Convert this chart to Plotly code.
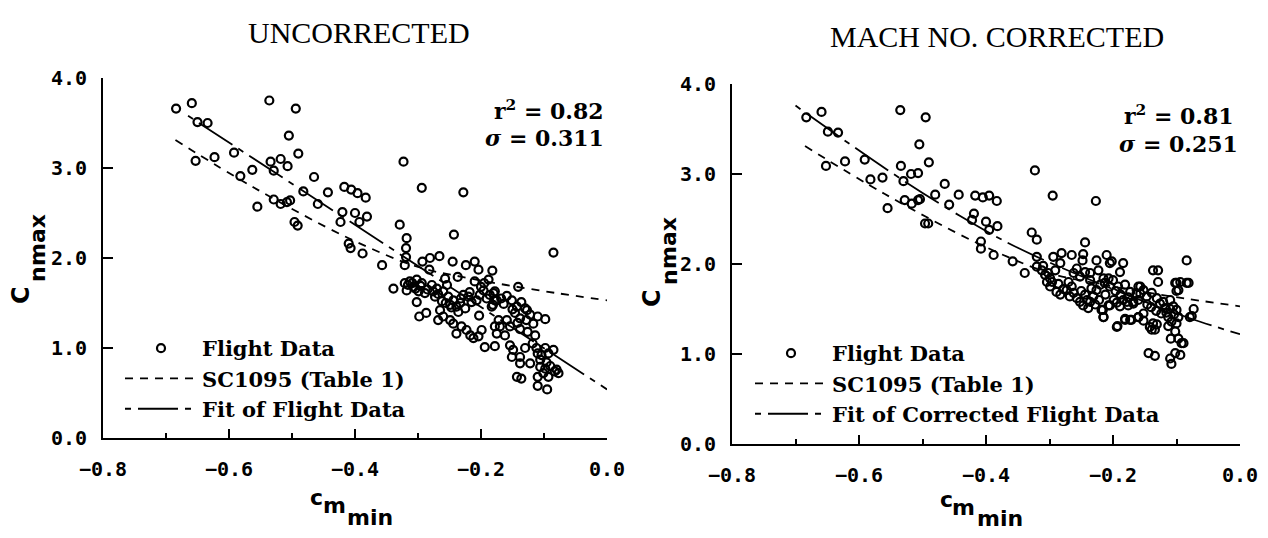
import plotly.graph_objects as go

# figure is 16px smaller than the window: the page body keeps its 8px margin
W, H = 1252, 522
OFF = 8


def px(x):
    """page pixel x -> paper fraction"""
    return (x - OFF) / W


def py(y):
    """page pixel y -> paper fraction"""
    return 1 - (y - OFF) / H


# ---- data ----
left_x = [-0.684, -0.659, -0.650, -0.634, -0.653, -0.623, -0.592, -0.582, -0.563, -0.555,
          -0.536, -0.534, -0.529, -0.518, -0.507, -0.505, -0.494, -0.490, -0.529, -0.518,
          -0.503, -0.508, -0.496, -0.491, -0.482, -0.465, -0.459, -0.443, -0.417, -0.406,
          -0.396, -0.383, -0.420, -0.423, -0.400, -0.393, -0.381, -0.410, -0.407, -0.388,
          -0.357, -0.323, -0.294, -0.228, -0.243, -0.329, -0.318, -0.319, -0.319, -0.339,
          -0.085, -0.141, -0.321, -0.293, -0.281, -0.266, -0.282, -0.245, -0.224, -0.210,
          -0.204, -0.182, -0.237, -0.257, -0.254, -0.210, -0.188, -0.321, -0.313, -0.302,
          -0.294, -0.307, -0.318, -0.299, -0.289, -0.302, -0.278, -0.270, -0.273, -0.260,
          -0.252, -0.244, -0.239, -0.249, -0.233, -0.225, -0.228, -0.220, -0.215, -0.207,
          -0.202, -0.196, -0.191, -0.186, -0.178, -0.175, -0.181, -0.265, -0.260, -0.268,
          -0.249, -0.244, -0.231, -0.223, -0.217, -0.212, -0.204, -0.199, -0.239, -0.298,
          -0.287, -0.194, -0.178, -0.172, -0.178, -0.203, -0.159, -0.151, -0.143, -0.136,
          -0.130, -0.127, -0.180, -0.178, -0.183, -0.146, -0.138, -0.128, -0.117, -0.110,
          -0.098, -0.122, -0.159, -0.154, -0.170, -0.162, -0.175, -0.138, -0.114, -0.154,
          -0.149, -0.151, -0.138, -0.130, -0.122, -0.138, -0.110, -0.106, -0.098, -0.093,
          -0.085, -0.106, -0.101, -0.093, -0.110, -0.077, -0.083, -0.098, -0.143, -0.136,
          -0.110, -0.095, -0.316, -0.309, -0.304, -0.296, -0.285, -0.276, -0.268, -0.262,
          -0.256, -0.247, -0.236, -0.232, -0.218, -0.200, -0.195, -0.168, -0.164, -0.150,
          -0.142, -0.126, -0.118, -0.112, -0.104, -0.096, -0.090, -0.080]
left_y = [3.66, 3.72, 3.51, 3.50, 3.08, 3.12, 3.17, 2.91, 2.98, 2.57,
          3.75, 3.07, 2.97, 3.10, 3.02, 3.36, 3.66, 3.16, 2.65, 2.60,
          2.64, 2.62, 2.40, 2.36, 2.74, 2.90, 2.60, 2.73, 2.79, 2.76,
          2.72, 2.67, 2.51, 2.40, 2.50, 2.40, 2.46, 2.16, 2.11, 2.05,
          1.92, 3.07, 2.78, 2.73, 2.26, 2.37, 2.22, 2.11, 2.01, 1.66,
          2.06, 1.68, 1.92, 1.96, 2.00, 2.02, 1.87, 1.96, 1.92, 1.96,
          1.87, 1.86, 1.79, 1.77, 1.70, 1.74, 1.76, 1.72, 1.74, 1.76,
          1.72, 1.68, 1.64, 1.63, 1.61, 1.51, 1.70, 1.66, 1.57, 1.63,
          1.57, 1.53, 1.46, 1.48, 1.50, 1.44, 1.59, 1.57, 1.51, 1.53,
          1.59, 1.64, 1.55, 1.59, 1.63, 1.53, 1.48, 1.42, 1.35, 1.31,
          1.31, 1.27, 1.24, 1.20, 1.14, 1.11, 1.13, 1.20, 1.16, 1.35,
          1.39, 1.01, 1.02, 1.31, 1.24, 1.36, 1.58, 1.53, 1.46, 1.51,
          1.44, 1.42, 1.61, 1.53, 1.46, 1.39, 1.33, 1.31, 1.27, 1.35,
          1.32, 1.37, 1.31, 1.24, 1.24, 1.14, 1.16, 1.21, 1.14, 1.03,
          0.98, 0.90, 0.90, 1.00, 0.83, 0.83, 0.94, 0.87, 1.00, 0.94,
          0.98, 0.79, 0.72, 0.68, 0.68, 0.72, 0.74, 0.77, 0.68, 0.66,
          0.58, 0.54, 1.70, 1.72, 1.66, 1.69, 1.65, 1.63, 1.60, 1.52,
          1.50, 1.45, 1.40, 1.55, 1.62, 1.68, 1.72, 1.55, 1.49, 1.43,
          1.28, 1.18, 1.05, 1.00, 0.92, 0.84, 0.80, 0.76]

right_x = [-0.683, -0.659, -0.649, -0.633, -0.652, -0.622, -0.591, -0.582, -0.563, -0.555,
           -0.535, -0.495, -0.505, -0.490, -0.534, -0.530, -0.518, -0.507, -0.528, -0.517,
           -0.507, -0.504, -0.496, -0.491, -0.480, -0.465, -0.458, -0.443, -0.417, -0.405,
           -0.395, -0.383, -0.419, -0.422, -0.400, -0.395, -0.382, -0.408, -0.408, -0.388,
           -0.358, -0.323, -0.295, -0.227, -0.328, -0.320, -0.339, -0.244, -0.247, -0.248,
           -0.084, -0.137, -0.129, -0.129, -0.100, -0.084, -0.097, -0.073, -0.076, -0.113,
           -0.100, -0.102, -0.089, -0.097, -0.144, -0.134, -0.110, -0.108, -0.094, -0.102,
           -0.142, -0.137, -0.134, -0.193, -0.181, -0.173, -0.215, -0.216, -0.207, -0.199,
           -0.189, -0.178, -0.168, -0.157, -0.152, -0.160, -0.160, -0.320, -0.320, -0.312,
           -0.307, -0.299, -0.294, -0.281, -0.265, -0.283, -0.291, -0.304, -0.299, -0.289,
           -0.283, -0.273, -0.265, -0.268, -0.257, -0.252, -0.247, -0.239, -0.241, -0.231,
           -0.234, -0.226, -0.220, -0.236, -0.252, -0.262, -0.257, -0.244, -0.236, -0.226,
           -0.210, -0.205, -0.223, -0.215, -0.207, -0.213, -0.205, -0.218, -0.215, -0.205,
           -0.194, -0.184, -0.189, -0.202, -0.102, -0.094, -0.081, -0.100, -0.200, -0.192,
           -0.181, -0.173, -0.184, -0.194, -0.176, -0.168, -0.163, -0.157, -0.152, -0.147,
           -0.139, -0.131, -0.126, -0.121, -0.118, -0.110, -0.105, -0.100, -0.097, -0.113,
           -0.108, -0.181, -0.171, -0.160, -0.152, -0.139, -0.131, -0.109, -0.092, -0.079,
           -0.310, -0.302, -0.296, -0.286, -0.278, -0.270, -0.262, -0.250, -0.244, -0.236,
           -0.228, -0.222, -0.212, -0.196, -0.188, -0.176, -0.160, -0.146, -0.140, -0.132,
           -0.124, -0.116, -0.110, -0.104]
right_y = [3.63, 3.69, 3.47, 3.46, 3.09, 3.14, 3.16, 2.94, 2.96, 2.62,
           3.71, 3.63, 3.33, 3.13, 3.09, 2.92, 3.00, 3.01, 2.71, 2.67,
           2.71, 2.72, 2.45, 2.45, 2.77, 2.89, 2.66, 2.77, 2.76, 2.74,
           2.76, 2.70, 2.56, 2.49, 2.47, 2.38, 2.42, 2.25, 2.17, 2.10,
           2.03, 3.04, 2.76, 2.70, 2.35, 2.27, 1.90, 2.24, 2.11, 2.04,
           2.04, 1.93, 1.93, 1.80, 1.79, 1.79, 1.71, 1.50, 1.42, 1.31,
           1.34, 1.25, 1.12, 1.17, 1.01, 0.98, 0.95, 0.89, 0.99, 1.01,
           1.30, 1.34, 1.27, 1.31, 1.38, 1.38, 1.41, 1.49, 1.54, 1.60,
           1.53, 1.58, 1.56, 1.67, 1.45, 1.41, 1.75, 2.08, 1.97, 1.93,
           1.88, 1.84, 2.08, 2.12, 2.10, 2.01, 1.93, 1.80, 1.75, 1.69,
           1.66, 1.71, 1.75, 1.64, 1.62, 1.58, 1.54, 1.51, 1.60, 1.64,
           1.73, 1.71, 1.77, 1.82, 1.86, 1.90, 1.95, 1.91, 1.90, 2.04,
           2.10, 2.01, 1.93, 1.84, 1.84, 1.79, 1.75, 1.49, 1.41, 1.54,
           1.30, 2.01, 1.91, 2.03, 1.79, 1.80, 1.79, 1.70, 1.82, 1.75,
           1.77, 1.69, 1.60, 1.57, 1.54, 1.58, 1.67, 1.75, 1.71, 1.64,
           1.68, 1.62, 1.56, 1.58, 1.51, 1.60, 1.53, 1.49, 1.41, 1.41,
           1.36, 1.39, 1.38, 1.41, 1.37, 1.27, 1.33, 1.17, 1.12, 1.41,
           1.98, 1.90, 1.80, 1.78, 1.72, 1.80, 1.68, 1.70, 1.66, 1.58,
           1.55, 1.60, 1.66, 1.70, 1.66, 1.63, 1.60, 1.55, 1.52, 1.48,
           1.45, 1.46, 1.50, 1.44]

# SC1095 (Table 1) curve, same in both panels
sc_x = [-0.685, -0.56, -0.41, -0.30, -0.23, -0.16, -0.08, 0.0]
sc_y = [3.31, 2.78, 2.22, 1.90, 1.79, 1.70, 1.61, 1.53]

# fits
fit_left_x = [-0.665, 0.0]
fit_left_y = [3.58, 0.54]
fit_right_x = [-0.70, -0.55, -0.44, -0.35, -0.20, -0.08, 0.0]
fit_right_y = [3.76, 3.02, 2.53, 2.18, 1.72, 1.40, 1.22]

x_ticks = [-0.8, -0.6, -0.4, -0.2, 0.0]
y_ticks = [0, 1, 2, 3, 4]

SERIF = "DejaVu Serif"
MONO = "DejaVu Sans Mono"
SANS = "DejaVu Sans"
SHORT_DASH = "8px,7px"
LONG_DASH = "6px,7px,40px,7px"

fig = go.Figure()

panels = [
    ("x", "y", "legend", left_x, left_y, fit_left_x, fit_left_y, "Fit of Flight Data", "linear"),
    ("x2", "y2", "legend2", right_x, right_y, fit_right_x, fit_right_y,
     "Fit of Corrected Flight Data", "spline"),
]
for xa, ya, leg, pxs, pys, fx, fy, fit_name, shape in panels:
    fig.add_scatter(
        x=pxs, y=pys, xaxis=xa, yaxis=ya, legend=leg, mode="markers", name="Flight Data",
        marker=dict(symbol="circle-open", size=8, color="black", line=dict(width=2.2)),
    )
    fig.add_scatter(
        x=sc_x, y=sc_y, xaxis=xa, yaxis=ya, legend=leg, mode="lines",
        name="SC1095 (Table 1)",
        line=dict(color="black", width=1.8, dash=SHORT_DASH, shape="spline"),
    )
    fig.add_scatter(
        x=fx, y=fy, xaxis=xa, yaxis=ya, legend=leg, mode="lines", name=fit_name,
        line=dict(color="black", width=1.8, dash=LONG_DASH, shape=shape),
    )

xcommon = dict(
    range=[-0.8, 0.0], tickvals=x_ticks, tickformat=".1f", ticks="inside", ticklen=9,
    tickwidth=2, tickcolor="black", showline=True, linewidth=2, linecolor="black",
    showgrid=False, zeroline=False, ticklabelstandoff=12,
    tickfont=dict(family=MONO, size=20, color="black", weight="bold"),
    minor=dict(dtick=0.1, ticks="inside", ticklen=5, tickwidth=2, tickcolor="black",
               showgrid=False),
)
ycommon = dict(
    range=[0, 4], tickvals=y_ticks, tickformat=".1f", ticks="inside", ticklen=10,
    tickwidth=2, tickcolor="black", showline=True, linewidth=2, linecolor="black",
    showgrid=False, zeroline=False, ticklabelstandoff=10,
    tickfont=dict(family=MONO, size=20, color="black", weight="bold"),
)

legend_font = dict(family=SERIF, size=21, color="black", weight="bold")
fig.update_layout(
    width=W, height=H,
    margin=dict(l=0, r=0, t=0, b=0, autoexpand=False),
    plot_bgcolor="white", paper_bgcolor="white",
    xaxis=dict(domain=[px(103), px(607)], anchor="y", **xcommon),
    yaxis=dict(domain=[py(438), py(78)], anchor="x", **ycommon),
    xaxis2=dict(domain=[px(732), px(1240)], anchor="y2", **xcommon),
    yaxis2=dict(domain=[py(444), py(84)], anchor="x2", **ycommon),
    legend=dict(x=px(120), y=py(328), xanchor="left", yanchor="top",
                bgcolor="rgba(0,0,0,0)", itemwidth=72, traceorder="normal",
                font=legend_font),
    legend2=dict(x=px(750), y=py(333), xanchor="left", yanchor="top",
                 bgcolor="rgba(0,0,0,0)", itemwidth=72, traceorder="normal",
                 font=legend_font),
)

title_font = dict(family="Liberation Serif", size=30, color="black")
big = dict(family=SANS, size=24, color="black", weight="bold")
small = dict(family=SANS, size=22, color="black", weight="bold")
stat_font = dict(family=SERIF, size=22, color="black", weight="bold")

notes = [
    dict(text="UNCORRECTED", x=359, y=33, font=title_font),
    dict(text="MACH NO. CORRECTED", x=997, y=36, font=title_font),
    dict(text="r<sup>2</sup> = 0.82", x=606, y=110, xanchor="right", font=stat_font),
    dict(text="<i>σ</i> = 0.311", x=606, y=138, xanchor="right", font=stat_font),
    dict(text="r<sup>2</sup> = 0.81", x=1236, y=115, xanchor="right", font=stat_font),
    dict(text="<i>σ</i> = 0.251", x=1240, y=144, xanchor="right", font=stat_font),
    # y titles  C_n_max
    dict(text="C", x=21, y=295, textangle=-90, font=big),
    dict(text="n", x=37, y=274, textangle=-90, font=small),
    dict(text="max", x=37, y=240, textangle=-90, font=small),
    dict(text="C", x=652, y=298, textangle=-90, font=big),
    dict(text="n", x=669, y=277, textangle=-90, font=small),
    dict(text="max", x=668, y=243, textangle=-90, font=small),
    # x titles  c_m_min
    dict(text="c", x=316, y=497, font=small),
    dict(text="m", x=334, y=505, font=small),
    dict(text="min", x=370, y=517, font=small),
    dict(text="c", x=946, y=499, font=small),
    dict(text="m", x=963, y=507, font=small),
    dict(text="min", x=1000, y=518, font=small),
]
for n in notes:
    n["x"] = px(n["x"])
    n["y"] = py(n["y"])
    n.setdefault("xanchor", "center")
    fig.add_annotation(xref="paper", yref="paper", showarrow=False, yanchor="middle", **n)

fig.write_html("out.html")
